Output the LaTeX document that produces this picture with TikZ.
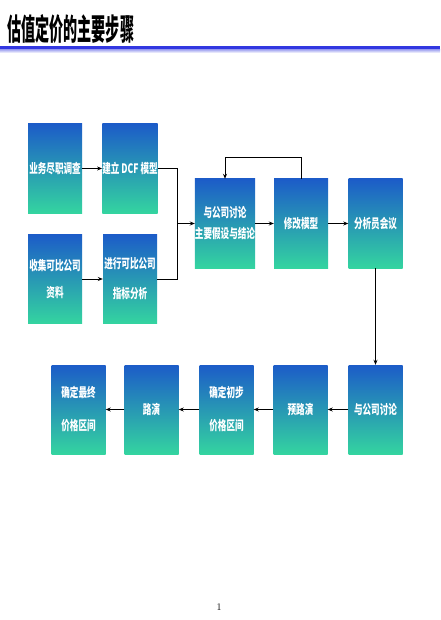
\documentclass[tikz,border=0pt]{standalone}
\usepackage{fontspec}
\usepackage{xcolor}
\usepackage{tikz}
\usetikzlibrary{positioning,calc,arrows.meta}
\newfontfamily\titlefont[FakeStretch=0.47]{Noto Sans CJK SC}
\newfontfamily\boxfont[FakeStretch=0.66]{Noto Sans CJK SC}
\definecolor{boxtop}{RGB}{28,92,200}
\definecolor{boxbottom}{RGB}{52,212,160}
\definecolor{rulecol}{RGB}{50,55,225}

\begin{document}
\begin{tikzpicture}[x=1pt,y=-1pt,
    stepbox/.style={minimum width=54pt, minimum height=89pt, inner sep=0pt,
        top color=boxtop, bottom color=boxbottom, text=white, align=center,
        font=\boxfont\bfseries\fontsize{13}{15}\selectfont},
    arr/.style={-{Stealth[length=5pt,width=4pt]}, line width=0.8pt},
    link/.style={line width=0.8pt}]
    \useasboundingbox[fill=white] (0,0) rectangle (440,620);

    % Title
    \node[anchor=west, inner sep=0pt, font=\titlefont\bfseries\fontsize{30}{32}\selectfont] (title) at (7,29) {估值定价的主要步骤};
    \fill[rulecol] (0,46.5) rectangle (440,49.5);
    \shade[top color=rulecol!45, bottom color=white] (0,49.5) rectangle (440,53);

    % First column
    \node[stepbox] (diligence) at (55,168.5) {业务尽职调查};
    \node[stepbox] (dcf) at (130,168.5) {建立 DCF 模型};
    \node[stepbox] (collect) at (55,279) {收集可比公司\\[12pt]资料};
    \node[stepbox] (compare) at (130,279) {进行可比公司\\[15pt]指标分析};

    % Middle row
    \node[stepbox] (discuss) at (225,223.5) {与公司讨论\\[6pt]主要假设与结论};
    \node[stepbox] (revise) at (301,223.5) {修改模型};
    \node[stepbox] (analyst) at (375.5,223.5) {分析员会议};

    % Bottom row
    \node[stepbox] (talk) at (375.5,409.5) {与公司讨论};
    \node[stepbox] (preroad) at (300.5,409.5) {预路演};
    \node[stepbox] (initial) at (226.5,409.5) {确定初步\\[18pt]价格区间};
    \node[stepbox] (road) at (151.5,409.5) {路演};
    \node[stepbox] (final) at (78.5,409.5) {确定最终\\[18pt]价格区间};

    % Connectors
    \draw[arr] (diligence) -- (dcf);
    \draw[arr] (collect) -- (compare);
    \coordinate (join) at (177,223.5);
    \draw[link] (dcf.east) -| (join);
    \draw[link] (compare.east) -| (join);
    \draw[arr] (join) -- (discuss);
    \draw[arr] (discuss) -- (revise);
    \draw[arr] (revise) -- (analyst);
    \draw[arr] (revise.north) -- ++(0,-21) -| (discuss.north);
    \draw[arr] (analyst) -- (talk);
    \draw[arr] (talk) -- (preroad);
    \draw[arr] (preroad) -- (initial);
    \draw[arr] (initial) -- (road);
    \draw[arr] (road) -- (final);

    % Page number
    \node[font=\fontsize{10}{12}\selectfont, inner sep=0pt] (page) at (219,607.5) {1};
\end{tikzpicture}
\end{document}
